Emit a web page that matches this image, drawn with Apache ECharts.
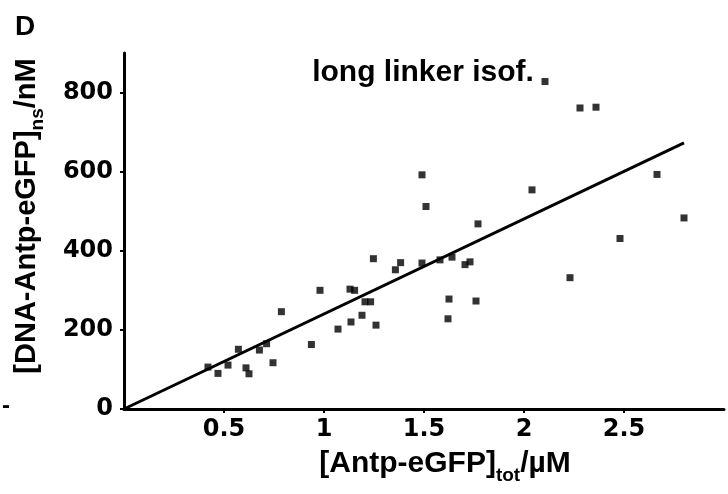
<!DOCTYPE html>
<html>
<head>
<meta charset="utf-8">
<script src="https://cdn.jsdelivr.net/npm/echarts@6/dist/echarts.min.js"></script>
<style>
html,body{margin:0;padding:0;background:#fff;}
#chart{width:728px;height:494px;}
</style>
</head>
<body>
<div id="chart"></div>
<script>
// x values in µM, y values in nM
const xValues = [0.42, 0.47, 0.52, 0.572, 0.61, 0.625, 0.677, 0.713, 0.745, 0.787, 0.937, 0.98,
  1.07, 1.13, 1.135, 1.153, 1.19, 1.205, 1.233, 1.247, 1.26, 1.357, 1.383,
  1.49, 1.49, 1.51, 1.58, 1.62, 1.625, 1.64, 1.705, 1.73, 1.76, 1.77,
  2.04, 2.105, 2.23, 2.28, 2.36, 2.48, 2.665, 2.80];
const yValues = [106, 90, 111, 151, 104, 89, 149, 165, 117, 246, 163, 300,
  202, 303, 220, 300, 237, 271, 271, 380, 212, 352, 370,
  592, 369, 512, 377, 228, 278, 384, 365, 372, 273, 468,
  554, 828, 332, 761, 763, 431, 593, 483];
const fitLine = [[0, 0], [2.8, 673]];
const xTicks = [0.5, 1, 1.5, 2, 2.5];
const yTicks = [0, 200, 400, 600, 800];
const titleText = 'long linker isof.';
const panelLabel = 'D';

const points = xValues.map((x, i) => [x, yValues[i]]);
const FONT = 'Liberation Sans';
const TICKFONT = 'DejaVu Sans';

const chart = echarts.init(document.getElementById('chart'));
chart.setOption({
  backgroundColor: '#fff',
  animation: false,
  textStyle: { fontFamily: FONT },
  title: [
    { text: panelLabel, left: 10, top: 8, textStyle: { fontFamily: FONT, fontSize: 28, fontWeight: 'bold', color: '#000' } },
    { text: titleText, left: 418, top: 53, textAlign: 'center', textStyle: { fontFamily: FONT, fontSize: 30, fontWeight: 'bold', color: '#000' } }
  ],
  grid: { left: 124, right: 4, top: 53, bottom: 85, containLabel: false },
  xAxis: {
    type: 'value', min: 0, max: 3, interval: 0.5,
    splitLine: { show: false },
    axisLine: { lineStyle: { color: '#000', width: 3 } },
    axisTick: { show: true, length: 4, lineStyle: { color: '#000', width: 2 }, customValues: xTicks },
    axisLabel: { customValues: xTicks, margin: 9, color: '#000', fontSize: 24, fontWeight: 'bold', fontFamily: TICKFONT },
    name: '{a|[Antp-eGFP]}{s|tot}{a|/µM}',
    nameLocation: 'middle', nameGap: 40,
    nameTextStyle: {
      padding: [0, 0, 0, 42],
      rich: {
        a: { fontFamily: FONT, fontSize: 30, fontWeight: 'bold', color: '#000', lineHeight: 34, verticalAlign: 'top' },
        s: { fontFamily: FONT, fontSize: 19, fontWeight: 'bold', color: '#000', lineHeight: 34, verticalAlign: 'top', padding: [17, 0, 0, 0] }
      }
    }
  },
  yAxis: {
    type: 'value', min: 0, max: 900, interval: 200,
    splitLine: { show: false },
    axisLine: { lineStyle: { color: '#000', width: 3 } },
    axisTick: { show: true, length: 4, lineStyle: { color: '#000', width: 2 }, customValues: yTicks },
    axisLabel: { customValues: yTicks, margin: 11, color: '#000', fontSize: 24, fontWeight: 'bold', fontFamily: TICKFONT },
    name: '{a|[DNA-Antp-eGFP]}{s|ns}{a|/nM}',
    nameLocation: 'middle', nameGap: 78, nameRotate: 90,
    nameTextStyle: {
      padding: [0, 0, 0, 30],
      rich: {
        a: { fontFamily: FONT, fontSize: 29, fontWeight: 'bold', color: '#000', lineHeight: 34, verticalAlign: 'top' },
        s: { fontFamily: FONT, fontSize: 19, fontWeight: 'bold', color: '#000', lineHeight: 34, verticalAlign: 'top', padding: [16, 0, 0, 0] }
      }
    }
  },
  series: [
    {
      type: 'scatter', data: points, symbol: 'rect', symbolSize: 7,
      itemStyle: { color: '#000' }
    },
    {
      type: 'line', data: fitLine, symbol: 'none',
      lineStyle: { color: '#000', width: 3 }
    }
  ],
  graphic: [
    { type: 'text', left: 2, top: 394, style: { text: '-', fill: '#000', font: 'bold 24px "Liberation Sans"' } }
  ]
});
</script>
</body>
</html>
